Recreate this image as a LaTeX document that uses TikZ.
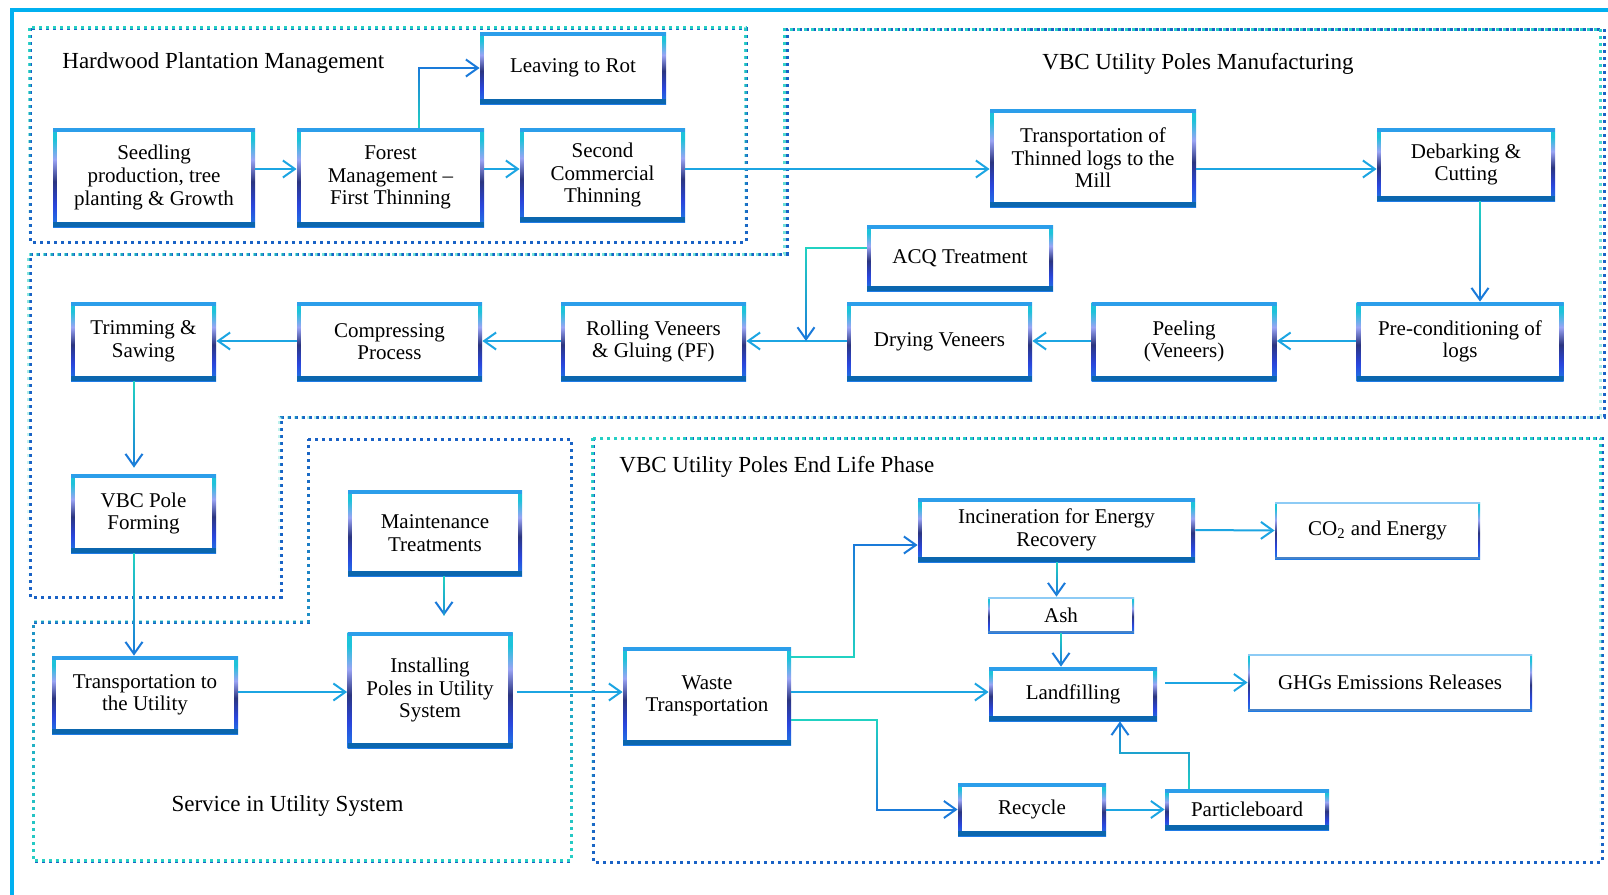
\documentclass[tikz,border=0pt]{standalone}
\usepackage{fontspec}
\setmainfont{Liberation Serif}
\usetikzlibrary{arrows.meta,fadings}

% palette
\definecolor{framec}{HTML}{00B0F0}
\definecolor{sblue}{HTML}{1F7BE6}
\definecolor{eblue}{HTML}{2A45DC}
\definecolor{enavy}{HTML}{2B3580}
\definecolor{elav}{HTML}{9AA4F4}
\definecolor{ecyan}{HTML}{1DC3DA}
\definecolor{etop}{HTML}{2C9EEA}
\definecolor{ebot}{HTML}{0B66AE}
\definecolor{ttop}{HTML}{8DCBF5}
\definecolor{tbot}{HTML}{4682C8}
\definecolor{lcyan}{HTML}{1CA5E2}
\definecolor{lteal}{HTML}{22D3C2}
\definecolor{lblue}{HTML}{1A7ADA}
\definecolor{dteal}{HTML}{26D0C4}
\definecolor{dblue}{HTML}{1A62C6}

% side gradient of the box outlines (bottom -> top)
\pgfdeclareverticalshading{edgeshade}{100bp}{color(0bp)=(sblue); color(25bp)=(sblue);
  color(36bp)=(eblue); color(48bp)=(enavy); color(59bp)=(elav); color(69bp)=(ecyan);
  color(100bp)=(ecyan)}

\tikzfading[name=fadedown, top color=transparent!0, bottom color=transparent!100]
\tikzfading[name=fadeup, top color=transparent!100, bottom color=transparent!0]

\newcommand{\boxfont}{\fontsize{10.5}{11.3}\selectfont}
\newcommand{\headfont}{\fontsize{11.5}{13}\selectfont}

% connector with a teal-to-blue colour run:
% #1 fading, #2 options, #3 start coordinate, #4 rest of the path
\newcommand{\gconn}[4]{%
  \draw[conn, draw=lblue, #2] (#3) #4;
  \draw[connline, draw=lteal, #2, path fading=#1]
    ([xshift=-3pt]#3) ([xshift=3pt]#3) (#3) #4;}

\begin{document}
\begin{tikzpicture}[x=0.5pt, y=-0.5pt,
  sz/.style 2 args={minimum width=#1*0.5pt, minimum height=#2*0.5pt},
  pbox/.style={rectangle, shade, shading=edgeshade, align=center, inner sep=1pt,
    font=\boxfont,
    path picture={
      \fill[white] ([shift={(2.1pt,2.1pt)}]path picture bounding box.south west)
        rectangle ([shift={(-2.1pt,-2.1pt)}]path picture bounding box.north east);
      \fill[etop] (path picture bounding box.north west)
        rectangle ([yshift=-2.1pt]path picture bounding box.north east);
      \fill[ebot] ([yshift=2.4pt]path picture bounding box.south west)
        rectangle (path picture bounding box.south east);
    }},
  tbox/.style={rectangle, shade, shading=edgeshade, align=center, inner sep=1pt,
    font=\boxfont,
    path picture={
      \fill[white] ([shift={(0.8pt,0.8pt)}]path picture bounding box.south west)
        rectangle ([shift={(-0.8pt,-0.8pt)}]path picture bounding box.north east);
      \fill[ttop] (path picture bounding box.north west)
        rectangle ([yshift=-0.8pt]path picture bounding box.north east);
      \fill[tbot] ([yshift=0.8pt]path picture bounding box.south west)
        rectangle (path picture bounding box.south east);
    }},
  head/.style={font=\headfont, inner sep=0pt},
  conn/.style={draw=lcyan, line width=1pt, -{Straight Barb[length=6pt,width=8.5pt]}},
  connline/.style={line width=1pt},
  region/.style={line width=1.5pt, dash pattern=on 1.5pt off 2pt}
]
\useasboundingbox (0,0) rectangle (1608,895);

% outer frame
\draw[framec, line width=1.6pt] (12,895) -- (12,10) -- (1608,10);

% phase regions
\draw[region, dblue] (30,28) rectangle (746,242);
\draw[region, dteal, path fading=fadedown] (30,28) rectangle (746,242);

\draw[region, dblue] (30,254) -- (787,254) -- (787,29) -- (1604,29) -- (1604,417)
  -- (281,417) -- (281,597) -- (30,597) -- cycle;
\draw[region, dteal, path fading=fadedown] (30,254) -- (787,254) -- (787,29) -- (1604,29)
  -- (1604,417) -- (281,417) -- (281,597) -- (30,597) -- cycle;

\draw[region, dblue] (308,439) -- (571,439) -- (571,861) -- (33,861) -- (33,622)
  -- (308,622) -- cycle;
\draw[region, dteal, path fading=fadeup] (308,439) -- (571,439) -- (571,861) -- (33,861)
  -- (33,622) -- (308,622) -- cycle;

\draw[region, dblue] (593,438) rectangle (1602,862);
\draw[region, dteal, path fading=fadedown] (593,438) rectangle (1602,862);

% region titles
\node[head, anchor=west] (tHard) at (62,63) {Hardwood Plantation Management};
\node[head] (tManu) at (1198,64) {VBC Utility Poles Manufacturing};
\node[head, anchor=west] (tEnd) at (619,467) {VBC Utility Poles End Life Phase};
\node[head] (tServ) at (287.5,806) {Service in Utility System};

% process steps
\node[pbox, sz={202}{99}] (seed) at (154,177.5) {Seedling\\production, tree\\planting \& Growth};
\node[pbox, sz={187}{99}] (forest) at (390.5,177.5) {Forest\\Management –\\First Thinning};
\node[pbox, sz={165}{94}] (second) at (602.5,175) {Second\\Commercial\\Thinning};
\node[pbox, sz={186}{72}] (rot) at (573,68) {Leaving to Rot};
\node[pbox, sz={206}{98}] (mill) at (1093,158) {Transportation of\\Thinned logs to the\\Mill};
\node[pbox, sz={178}{73}] (debark) at (1466,164.5) {Debarking \&\\Cutting};
\node[pbox, sz={207}{79}] (precond) at (1460,341.5) {Pre-conditioning of\\logs};
\node[pbox, sz={185}{79}] (peel) at (1184,341.5) {Peeling\\(Veneers)};
\node[pbox, sz={185}{79}] (dry) at (939.5,341.5) {Drying Veneers};
\node[pbox, sz={186}{66}] (acq) at (960,258) {ACQ Treatment};
\node[pbox, sz={185}{79}] (roll) at (653.5,341.5) {Rolling Veneers\\\& Gluing (PF)};
\node[pbox, sz={185}{79}] (compress) at (389.5,341.5) {Compressing\\Process};
\node[pbox, sz={145}{79}] (trim) at (143.5,341.5) {Trimming \&\\Sawing};
\node[pbox, sz={145}{79}] (form) at (143.5,513.5) {VBC Pole\\Forming};
\node[pbox, sz={174}{86}] (maint) at (435,533) {Maintenance\\Treatments};
\node[pbox, sz={165}{116}] (install) at (430,690) {Installing\\Poles in Utility\\System};
\node[pbox, sz={186}{78}] (toutil) at (145,695) {Transportation to\\the Utility};
\node[pbox, sz={168}{98}] (waste) at (707,696) {Waste\\Transportation};
\node[pbox, sz={277}{64}] (incin) at (1056.5,530) {Incineration for Energy\\Recovery};
\node[tbox, sz={205}{57}] (co2) at (1377.5,530.5) {CO\textsubscript{2} and Energy};
\node[tbox, sz={146}{36}] (ash) at (1061,615) {Ash};
\node[pbox, sz={168}{54}] (landfill) at (1073,694) {Landfilling};
\node[tbox, sz={284}{57}] (ghg) at (1390,682.5) {GHGs Emissions Releases};
\node[pbox, sz={148}{53}] (recycle) at (1032,809.5) {Recycle};
\node[pbox, sz={164}{41}] (particle) at (1247,809.5) {Particleboard};

% connector rows, columns and bends
\coordinate (r1) at (0,169);
\coordinate (r2) at (0,341);
\coordinate (r3) at (0,692);
\coordinate (kDeb) at (1480,0);
\coordinate (kTrim) at (134,0);
\coordinate (kMaint) at (444,0);
\coordinate (kForest) at (419,0);
\coordinate (acqin) at (806,341);
\coordinate (wi) at (854,657);
\coordinate (wr) at (877,720);
\coordinate (pl1) at (1188.5,753);
\coordinate (pl2) at (1120,753);

% start points of the shaded connectors
\coordinate (aFor) at (forest.north-|kForest);
\coordinate (aDeb) at (debark.south-|kDeb);
\coordinate (aAcq) at ([yshift=5pt]acq.west);
\coordinate (aTrim) at (trim.south-|kTrim);
\coordinate (aForm) at (form.south-|kTrim);
\coordinate (aMaint) at (maint.south-|kMaint);
\coordinate (aWi) at (waste.east|-wi);
\coordinate (aWr) at (waste.east|-wr);
\coordinate (aInc) at (incin.south);
\coordinate (aAsh) at (ash.south);
\coordinate (aPart) at (particle.north-|pl1);

% plantation and mill
\draw[conn] (seed.east|-r1) -- (forest.west|-r1);
\draw[conn] (forest.east|-r1) -- (second.west|-r1);
\draw[conn] (second.east|-r1) -- (mill.west|-r1);
\draw[conn] (mill.east|-r1) -- (debark.west|-r1);
\gconn{fadeup}{}{aFor}{|- (rot.west)}
\gconn{fadedown}{}{aDeb}{-- (precond.north-|kDeb)}

% veneer line
\draw[conn] (precond.west|-r2) -- (peel.east|-r2);
\draw[conn] (peel.west|-r2) -- (dry.east|-r2);
\draw[conn] (dry.west|-r2) -- (roll.east|-r2);
\draw[conn] (roll.west|-r2) -- (compress.east|-r2);
\draw[conn] (compress.west|-r2) -- (trim.east|-r2);
\gconn{fadedown}{}{aAcq}{-| (acqin)}
\gconn{fadedown}{shorten >=3pt}{aTrim}{-- (form.north-|kTrim)}
\gconn{fadedown}{}{aForm}{-- (toutil.north-|kTrim)}

% service
\draw[conn] (toutil.east|-r3) -- (install.west|-r3);
\gconn{fadedown}{shorten >=8pt}{aMaint}{-- (install.north-|kMaint)}
\draw[conn, shorten <=2pt] (install.east|-r3) -- (waste.west|-r3);

% end of life
\draw[conn] (waste.east|-r3) -- (landfill.west|-r3);
\gconn{fadeup}{}{aWi}{-- (wi) |- ([yshift=-7.5pt]incin.west)}
\gconn{fadedown}{}{aWr}{-- (wr) |- (recycle.west)}
\draw[conn] (incin.east) -- (co2.west);
\gconn{fadedown}{}{aInc}{-- (incin.south|-ash.north)}
\gconn{fadedown}{}{aAsh}{-- (ash.south|-landfill.north)}
\draw[conn, shorten <=4pt] (landfill.east|-ghg.west) -- (ghg.west);
\draw[conn] (recycle.east) -- (particle.west);
\gconn{fadeup}{}{aPart}{-- (pl1) -- (pl2) -- (landfill.south-|pl2)}
\end{tikzpicture}
\end{document}
